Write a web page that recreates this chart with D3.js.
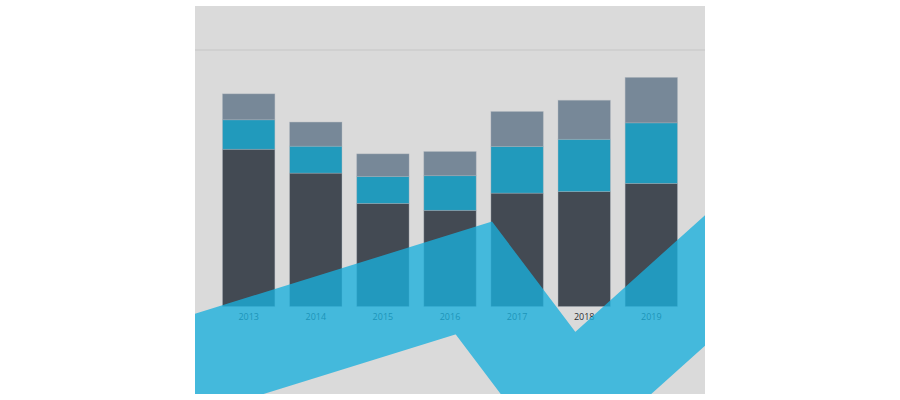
<!DOCTYPE html>
<html>
<head>
<meta charset="utf-8">
<script src="https://cdn.jsdelivr.net/npm/d3@7"></script>
<style>
  body { margin: 0; background: #fff; }
</style>
</head>
<body>
<div id="chart"></div>
<script>
const years = ["2013", "2014", "2015", "2016", "2017", "2018", "2019"];
const baseVals = [61.3, 52.0, 40.2, 37.5, 44.2, 44.8, 48.0];
const midVals = [11.5, 10.5, 10.5, 13.5, 18.2, 20.4, 23.6];
const topVals = [10.1, 9.4, 8.8, 9.4, 13.6, 15.2, 17.7];
// decorative ribbon: x in year-index units, y in value units
const ribbonX = [-1.465, 3.356, 4.765, 7.627];
const ribbonY = [-28.0, 11.1, -37.7, 29.6];

const width = 900, height = 400;
const panel = {x: 195, y: 6, w: 510, h: 388};

let svg = d3.select("#chart")
    .append("svg")
    .attr("width", width)
    .attr("height", height);

svg.append("rect")
    .attr("x", panel.x)
    .attr("y", panel.y)
    .attr("width", panel.w)
    .attr("height", panel.h)
    .attr("fill", "#dadada");

svg.append("clipPath")
    .attr("id", "panelClip")
    .append("rect")
    .attr("x", panel.x)
    .attr("y", panel.y)
    .attr("width", panel.w)
    .attr("height", panel.h);

let x = d3.scaleBand()
    .domain(years)
    .range([215, 685])
    .paddingInner(0.22)
    .paddingOuter(0.112);

let y = d3.scaleLinear()
    .domain([0, 100])
    .range([306.5, 50]);

// top rule
svg.append("line")
    .attr("x1", panel.x)
    .attr("x2", panel.x + panel.w)
    .attr("y1", y(100))
    .attr("y2", y(100))
    .attr("stroke", "#c6c6c6")
    .attr("stroke-width", 1);

let data = years.map((yr, i) => ({year: yr, base: baseVals[i], mid: midVals[i], top: topVals[i]}));
let stack = d3.stack().keys(["base", "mid", "top"])(data);
let colors = {base: "#434a53", mid: "#219abc", top: "#778898"};

svg.append("g")
    .selectAll("g")
    .data(stack)
    .join("g")
    .attr("fill", d => colors[d.key])
    .selectAll("rect")
    .data(d => d)
    .join("rect")
    .attr("x", d => x(d.data.year))
    .attr("y", d => y(d[1]))
    .attr("width", x.bandwidth())
    .attr("height", d => y(d[0]) - y(d[1]))
    .attr("stroke", "#aab2ba")
    .attr("stroke-opacity", 0.45)
    .attr("stroke-width", 0.8);

let xAxis = svg.append("g")
    .attr("transform", `translate(0, ${y(0)})`)
    .call(d3.axisBottom(x).tickSize(0).tickPadding(7));
xAxis.select(".domain").remove();
xAxis.selectAll("text")
    .style("font-family", "'Open Sans', sans-serif")
    .style("font-size", "9px")
    .attr("fill", "#2a2e33");

let xi = d3.scaleLinear()
    .domain([0, years.length - 1])
    .range([x(years[0]) + x.bandwidth() / 2, x(years[years.length - 1]) + x.bandwidth() / 2]);

let ribbon = ribbonX.map((v, i) => [v, ribbonY[i]]);

svg.append("path")
    .datum(ribbon)
    .attr("clip-path", "url(#panelClip)")
    .attr("d", d3.line().x(d => xi(d[0])).y(d => y(d[1])))
    .attr("fill", "none")
    .attr("stroke", "rgb(26,175,221)")
    .attr("stroke-opacity", 0.78)
    .attr("stroke-width", 97)
    .attr("stroke-linejoin", "miter");
</script>
</body>
</html>
